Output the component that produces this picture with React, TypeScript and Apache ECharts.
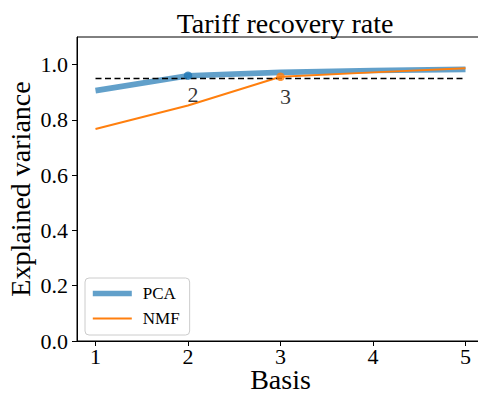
import React, { useEffect, useRef } from "react";
import * as echarts from "echarts";

const basis = [1, 2, 3, 4, 5];
const pcaValues = [0.906, 0.96, 0.972, 0.979, 0.983];
const nmfValues = [0.767, 0.852, 0.956, 0.972, 0.987];
const threshold = 0.95;
const pcaKnee = 2;
const nmfKnee = 3;
const xTicks = [1, 2, 3, 4, 5];
const yTicks = [0, 0.2, 0.4, 0.6, 0.8, 1.0];
const titleText = "Tariff recovery rate";
const xName = "Basis";
const yName = "Explained variance";

const FONT = "Liberation Serif";

export default function App() {
  const ref = useRef<HTMLDivElement>(null);
  useEffect(() => {
    if (!ref.current) return;
    const chart = echarts.init(ref.current, null, { renderer: "svg" });
    const pcaData = basis.map((b, i) => [b, pcaValues[i]]);
    const nmfData = basis.map((b, i) => [b, nmfValues[i]]);
    const pcaKneeVal = pcaValues[basis.indexOf(pcaKnee)];
    const nmfKneeVal = nmfValues[basis.indexOf(nmfKnee)];
    const kneeLabel = {
      show: true,
      position: "bottom" as const,
      distance: 3,
      offset: [5, 1],
      formatter: (p: any) => String(p.value[0]),
      fontSize: 22,
      lineHeight: 22,
      fontFamily: FONT,
      color: "#000",
    };
    chart.setOption({
      animation: false,
      backgroundColor: "#fff",
      textStyle: { fontFamily: FONT, color: "#000" },
      title: {
        text: titleText,
        left: 280,
        top: 4,
        textAlign: "center",
        textStyle: { fontFamily: FONT, fontSize: 28, fontWeight: "normal", color: "#000" },
      },
      grid: {
        left: 77,
        top: 37,
        width: 407,
        height: 304,
        show: true,
        borderColor: "#000",
        borderWidth: 1,
        containLabel: false,
        outerBoundsMode: "none",
      },
      legend: {
        data: [
          { name: "PCA", lineStyle: { width: 5.6 } },
          { name: "NMF", lineStyle: { width: 2 } },
        ],
        orient: "vertical",
        left: 85,
        top: 278,
        padding: [7, 10, 8, 5],
        itemWidth: 39,
        itemHeight: 14,
        itemGap: 8,
        itemStyle: { opacity: 0 },
        borderColor: "#cccccc",
        borderWidth: 1,
        borderRadius: 4,
        backgroundColor: "rgba(255,255,255,0.8)",
        textStyle: { fontFamily: FONT, fontSize: 17, color: "#000", padding: [0, 0, 0, 6] },
      },
      xAxis: {
        type: "value",
        min: 0.8,
        max: 5.2,
        name: xName,
        nameLocation: "middle",
        nameGap: 27,
        nameMoveOverlap: false,
        nameTextStyle: { fontFamily: FONT, fontSize: 28, lineHeight: 22, color: "#000" },
        axisLine: { show: true, lineStyle: { color: "#000", width: 1 } },
        axisTick: { show: true, length: 5, lineStyle: { color: "#000" }, customValues: xTicks },
        axisLabel: {
          customValues: xTicks,
          margin: 4,
          fontFamily: FONT,
          fontSize: 22,
          lineHeight: 22,
          color: "#000",
        },
        splitLine: { show: false },
      },
      yAxis: {
        type: "value",
        min: 0,
        max: 1.1,
        name: yName,
        nameLocation: "middle",
        nameGap: 43,
        nameMoveOverlap: false,
        nameRotate: 90,
        nameTextStyle: { fontFamily: FONT, fontSize: 28, lineHeight: 28, color: "#000" },
        axisLine: { show: true, lineStyle: { color: "#000", width: 1 } },
        axisTick: { show: true, length: 5, lineStyle: { color: "#000" }, customValues: yTicks },
        axisLabel: {
          customValues: yTicks,
          margin: 9,
          fontFamily: FONT,
          fontSize: 22,
          lineHeight: 22,
          color: "#000",
          formatter: (v: number) => v.toFixed(1),
        },
        splitLine: { show: false },
      },
      series: [
        {
          name: "PCA",
          type: "line",
          data: pcaData,
          symbol: "none",
          color: "rgba(31,119,180,0.7)",
          lineStyle: { width: 5.6, color: "rgba(31,119,180,0.7)" },
          z: 2,
        },
        {
          name: "NMF",
          type: "line",
          data: nmfData,
          symbol: "none",
          color: "#ff7f0e",
          lineStyle: { width: 2, color: "#ff7f0e" },
          z: 3,
        },
        {
          name: "threshold",
          type: "line",
          data: [
            [basis[0], threshold],
            [basis[basis.length - 1], threshold],
          ],
          symbol: "none",
          lineStyle: { width: 1.5, color: "#000", type: [6, 3.5] },
          z: 4,
        },
        {
          name: "pcaKnee",
          type: "scatter",
          data: [[pcaKnee, pcaKneeVal]],
          symbolSize: 8.5,
          itemStyle: { color: "#1f77b4" },
          label: kneeLabel,
          z: 5,
        },
        {
          name: "nmfKnee",
          type: "scatter",
          data: [[nmfKnee, nmfKneeVal]],
          symbolSize: 8.5,
          itemStyle: { color: "#ff7f0e" },
          label: kneeLabel,
          z: 5,
        },
      ],
    });
    return () => chart.dispose();
  }, []);
  return (
    <div
      ref={ref}
      style={{ position: "absolute", left: 0, top: 0, width: 478, height: 394, overflow: "hidden" }}
    />
  );
}
